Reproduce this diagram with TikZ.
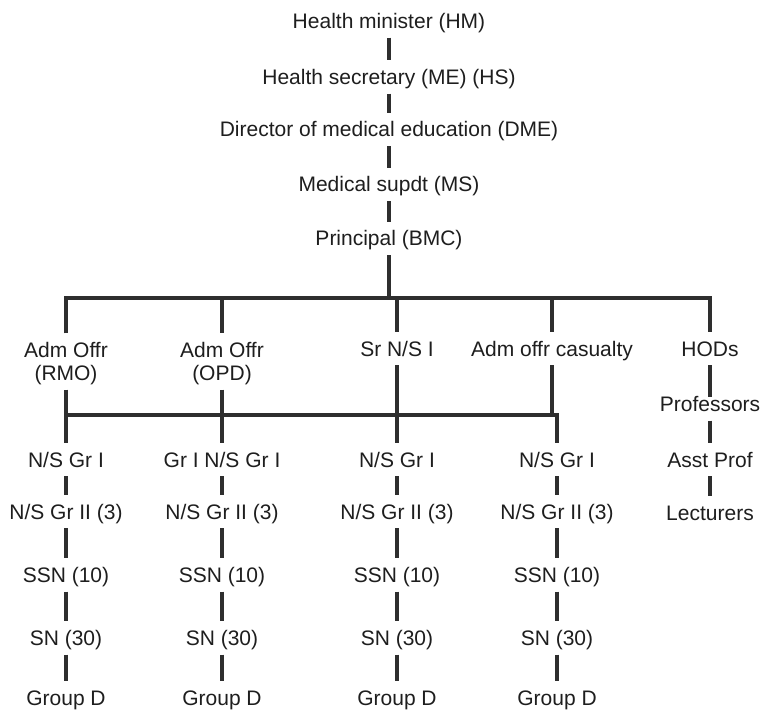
\documentclass[tikz,border=0pt]{standalone}
\usepackage{fontspec}
\setmainfont{Liberation Sans}
\definecolor{txt}{HTML}{1E1E1E}
\definecolor{ln}{HTML}{2E2E2E}
\begin{document}
\begin{tikzpicture}[x=1pt,y=-1pt,
  every node/.style={font=\fontsize{21}{23}\selectfont, text=txt},
  lbl/.style={anchor=base, text height=15pt, text depth=0pt, inner xsep=2pt, inner ysep=9pt},
  lbltwo/.style={anchor=base, text height=15pt, text depth=23pt, inner xsep=2pt, inner ysep=9pt},
  link/.style={draw=ln, line width=3.4pt, line join=miter}]
\useasboundingbox[fill=white] (0,0) rectangle (760,711);

% top chain
\node[lbl] (hm)  at (389,28.5) {Health minister (HM)};
\node[lbl] (hs)  at (389,84.5) {Health secretary (ME) (HS)};
\node[lbl] (dme) at (389,137)  {Director of medical education (DME)};
\node[lbl] (ms)  at (389,192)  {Medical supdt (MS)};
\node[lbl] (pr)  at (389,246)  {Principal (BMC)};

% second level
\node[lbltwo] (rmo) at (66,357.5)  {\begin{tabular}[t]{@{}c@{}}Adm Offr\\(RMO)\end{tabular}};
\node[lbltwo] (opd) at (222,357.5) {\begin{tabular}[t]{@{}c@{}}Adm Offr\\(OPD)\end{tabular}};
\node[lbl] (sr)  at (397,356) {Sr N/S I};
\node[lbl] (cas) at (552,356) {Adm offr casualty};
\node[lbl] (hod) at (710,356) {HODs};

% faculty
\node[lbl] (prof) at (710,411.5) {Professors};
\node[lbl] (asst) at (710,467)   {Asst Prof};
\node[lbl] (lect) at (710,520.5) {Lecturers};

% nursing columns: heads
\node[lbl] (a1) at (66,467)  {N/S Gr I};
\node[lbl] (b1) at (222,467) {Gr I N/S Gr I};
\node[lbl] (c1) at (397,467) {N/S Gr I};
\node[lbl] (d1) at (557,467) {N/S Gr I};

% nursing columns: lower grades
\foreach \c/\x in {a/66, b/222, c/397, d/557}{
  \node[lbl] (\c2) at (\x,519)   {N/S Gr II (3)};
  \node[lbl] (\c3) at (\x,582.5) {SSN (10)};
  \node[lbl] (\c4) at (\x,645.5) {SN (30)};
  \node[lbl] (\c5) at (\x,705)   {Group D};
  \draw[link] (\c1) -- (\c2);
  \draw[link] (\c2) -- (\c3);
  \draw[link] (\c3) -- (\c4);
  \draw[link] (\c4) -- (\c5);
}

\coordinate (barA) at (0,298);
\coordinate (barB) at (0,415);

% top chain links
\draw[link] (hm) -- (hs);
\draw[link] (hs) -- (dme);
\draw[link] (dme) -- (ms);
\draw[link] (ms) -- (pr);
\draw[link] (pr) -- (pr.south |- barA);

% first bar and drops
\draw[link] (rmo.north) -- (rmo.north |- barA) -- (hod.north |- barA) -- (hod.north);
\draw[link] (opd.north |- barA) -- (opd.north);
\draw[link] (sr.north |- barA) -- (sr.north);
\draw[link] (cas.north |- barA) -- (cas.north);

% second bar
\draw[link] (rmo.south) -- (a1.north);
\draw[link] (opd.south) -- (b1.north);
\draw[link] (sr.south) -- (c1.north);
\draw[link] (cas.south) -- (cas.south |- barB);
\draw[link] (rmo.south |- barB) -- (d1.north |- barB) -- (d1.north);

% faculty links
\draw[link, shorten >=-10pt] (hod) -- (prof);
\draw[link] (prof) -- (asst);
\draw[link] (asst) -- (lect);
\end{tikzpicture}
\end{document}
